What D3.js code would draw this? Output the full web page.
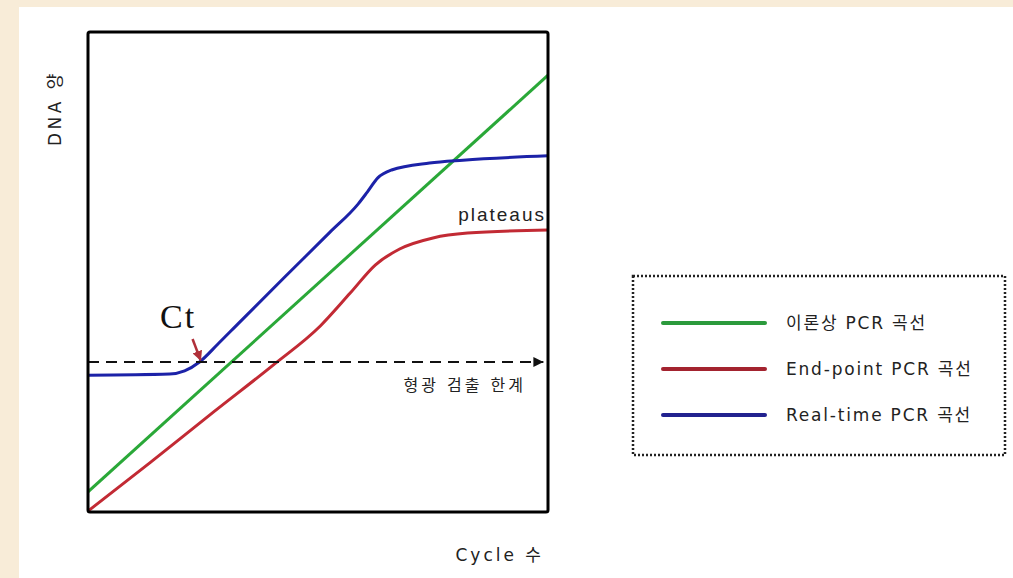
<!DOCTYPE html>
<html>
<head>
<meta charset="utf-8">
<script src="https://cdn.jsdelivr.net/npm/d3@7"></script>
<style>
  html, body { margin: 0; padding: 0; background: #f8ecd8; }
  svg { display: block; }
</style>
</head>
<body>
<svg id="chart" width="1013" height="578"></svg>
<script>
// Amplification curves: cycle number vs. relative DNA amount
const theoryCycles = [0, 40];
const theoryValues = [4.2, 91];

const endpointCycles = [0, 5.4, 10.9, 16.1, 20.2, 22.8, 25.0, 27.1, 30.0, 33.0, 40];
const endpointValues = [0.2, 10.3, 20.8, 30.6, 38.75, 45.6, 51.5, 54.8, 57.1, 58.1, 58.75];

const realtimeCycles = [0, 7.1, 8.4, 9.7, 11.3, 13.0, 17.0, 21.0, 23.5, 24.3, 25.2, 26.4, 29.7, 32.6, 40];
const realtimeValues = [28.5, 28.75, 29.4, 31.25, 35.0, 39.1, 48.7, 58.2, 64.2, 66.7, 69.6, 71.25, 72.7, 73.3, 74.2];

const threshold = 31.25;   // fluorescence detection limit
const ctCycle = 9.7;       // real-time curve crosses the threshold here

const seriesNames = ["이론상 PCR 곡선", "End-point PCR 곡선", "Real-time PCR 곡선"];
const seriesColors = ["#2aa838", "#c22a34", "#1c22a8"];
const legendColors = ["#2b9a3c", "#a3232f", "#22228f"];

const svg = d3.select("#chart");
const W = 1013, H = 578;

// white sheet over the cream page
svg.append("rect").attr("x", 19).attr("y", 7).attr("width", W - 19).attr("height", H - 7).attr("fill", "#ffffff");

const plot = { left: 88, top: 32, right: 548, bottom: 512 };
const x = d3.scaleLinear().domain([0, 40]).range([plot.left, plot.right]);
const y = d3.scaleLinear().domain([0, 100]).range([plot.bottom, plot.top]);

const defs = svg.append("defs");
defs.append("clipPath").attr("id", "plotClip")
  .append("rect")
  .attr("x", plot.left).attr("y", plot.top)
  .attr("width", plot.right - plot.left).attr("height", plot.bottom - plot.top);

defs.append("marker")
  .attr("id", "arrowBlack").attr("viewBox", "0 0 10 10")
  .attr("refX", 10).attr("refY", 5)
  .attr("markerWidth", 5).attr("markerHeight", 5)
  .attr("markerUnits", "strokeWidth")
  .attr("orient", "auto")
  .append("path").attr("d", "M0,0 L10,5 L0,10 z").attr("fill", "#111");
defs.append("marker")
  .attr("id", "arrowRed").attr("viewBox", "0 0 10 10")
  .attr("refX", 9).attr("refY", 5)
  .attr("markerWidth", 4).attr("markerHeight", 4)
  .attr("markerUnits", "strokeWidth")
  .attr("orient", "auto")
  .append("path").attr("d", "M0,0 L10,5 L0,10 z").attr("fill", "#b0303a");

const line = d3.line()
  .x(d => x(d[0]))
  .y(d => y(d[1]))
  .curve(d3.curveMonotoneX);

const series = [
  d3.zip(theoryCycles, theoryValues),
  d3.zip(endpointCycles, endpointValues),
  d3.zip(realtimeCycles, realtimeValues)
];

const g = svg.append("g").attr("clip-path", "url(#plotClip)");

// detection threshold (dashed, with arrowhead)
svg.append("line")
  .attr("x1", x(0)).attr("x2", x(39.6))
  .attr("y1", y(threshold)).attr("y2", y(threshold))
  .attr("stroke", "#111").attr("stroke-width", 2)
  .attr("stroke-dasharray", "11,7")
  .attr("marker-end", "url(#arrowBlack)");

g.selectAll("path.curve")
  .data(series)
  .join("path")
  .attr("class", "curve")
  .attr("d", line)
  .attr("fill", "none")
  .attr("stroke", (d, i) => seriesColors[i])
  .attr("stroke-width", 3)
  .attr("stroke-linejoin", "round");

// plot frame
svg.append("rect")
  .attr("x", plot.left).attr("y", plot.top)
  .attr("width", plot.right - plot.left).attr("height", plot.bottom - plot.top)
  .attr("fill", "none").attr("stroke", "#000").attr("stroke-width", 3)
  .attr("rx", 2);

// Ct annotation
svg.append("text")
  .attr("x", 160).attr("y", y(threshold) - 34)
  .attr("font-family", "'Liberation Serif', 'DejaVu Serif', serif")
  .attr("font-size", 34)
  .attr("letter-spacing", 2)
  .attr("fill", "#111")
  .text("Ct");
svg.append("line")
  .attr("x1", x(ctCycle) - 7).attr("y1", y(threshold) - 23)
  .attr("x2", x(ctCycle) + 1).attr("y2", y(threshold) - 2)
  .attr("stroke", "#b0303a").attr("stroke-width", 2.5)
  .attr("marker-end", "url(#arrowRed)");

const labelFont = "'DejaVu Sans', 'Noto Sans CJK KR', sans-serif";

svg.append("text")
  .attr("x", 526).attr("y", y(threshold) + 29)
  .attr("text-anchor", "end")
  .attr("font-family", labelFont)
  .attr("font-size", 16)
  .attr("letter-spacing", 3)
  .attr("fill", "#222")
  .text("형광 검출 한계");

svg.append("text")
  .attr("x", 546).attr("y", 221)
  .attr("text-anchor", "end")
  .attr("font-family", "'Liberation Sans', Arial, sans-serif")
  .attr("font-size", 19)
  .attr("letter-spacing", 2)
  .attr("fill", "#222")
  .text("plateaus");

// axis titles
svg.append("text")
  .attr("transform", "translate(61,108) rotate(-90)")
  .attr("text-anchor", "middle")
  .attr("font-family", labelFont)
  .attr("font-size", 17)
  .attr("letter-spacing", 3.5)
  .attr("fill", "#222")
  .text("DNA 양");

svg.append("text")
  .attr("x", 544).attr("y", 561)
  .attr("text-anchor", "end")
  .attr("font-family", labelFont)
  .attr("font-size", 17)
  .attr("letter-spacing", 3)
  .attr("fill", "#222")
  .text("Cycle 수");

// legend
const legend = svg.append("g");
legend.append("rect")
  .attr("x", 633).attr("y", 276)
  .attr("width", 372).attr("height", 179)
  .attr("fill", "none").attr("stroke", "#222")
  .attr("stroke-width", 2.5).attr("stroke-dasharray", "2,2");

const items = legend.selectAll("g.item")
  .data(seriesNames)
  .join("g")
  .attr("class", "item")
  .attr("transform", (d, i) => `translate(0,${323 + i * 46})`);
items.append("line")
  .attr("x1", 663).attr("x2", 765)
  .attr("stroke", (d, i) => legendColors[i])
  .attr("stroke-width", 4).attr("stroke-linecap", "round");
items.append("text")
  .attr("x", 786).attr("y", 0).attr("dy", "0.35em")
  .attr("font-family", labelFont)
  .attr("font-size", 17)
  .attr("letter-spacing", 1.8)
  .attr("fill", "#222")
  .text(d => d);
</script>
</body>
</html>
